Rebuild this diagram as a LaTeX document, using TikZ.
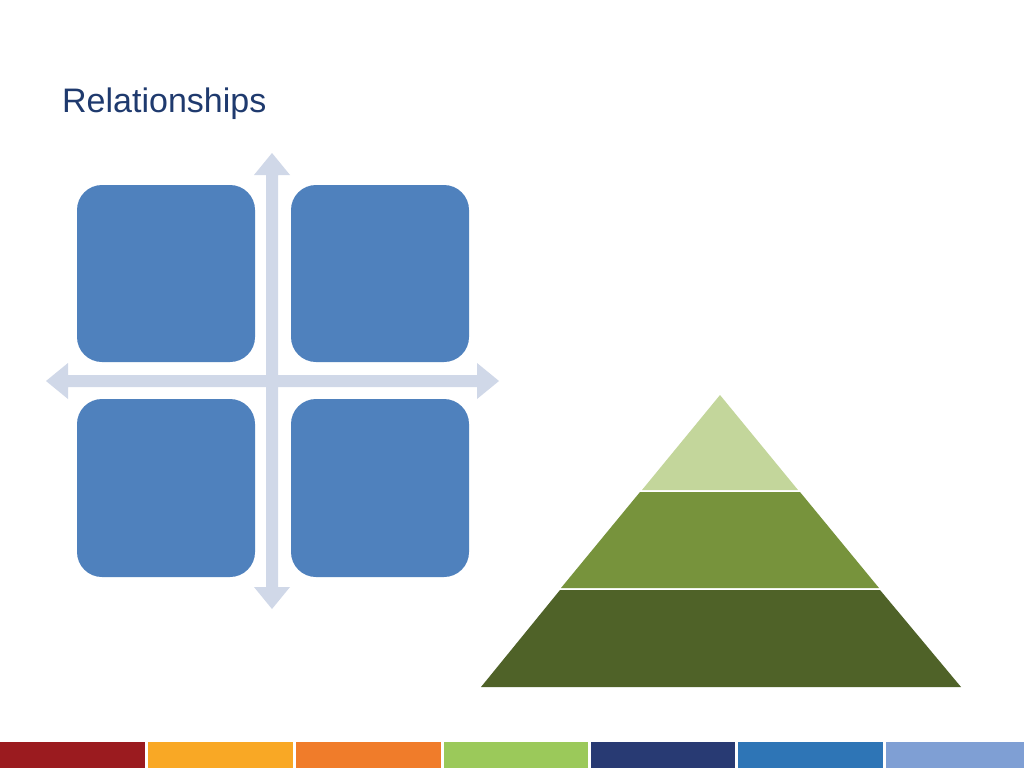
\documentclass[tikz,border=0pt]{standalone}
\usepackage{fontspec}
\setmainfont{Liberation Sans}
\definecolor{ttl}{HTML}{1F3A6E}
\definecolor{sq}{HTML}{4F81BD}
\definecolor{arr}{HTML}{D0D8E8}
\definecolor{pa}{HTML}{C3D69B}
\definecolor{pb}{HTML}{77933C}
\definecolor{pc}{HTML}{4F6228}
\begin{document}
\begin{tikzpicture}[x=1pt,y=-1pt]
\tikzset{sqbox/.style={fill=sq,rounded corners=25pt}}
\useasboundingbox (0,0) rectangle (1024,768);
\fill[white] (0,0) rectangle (1024,768);
\node[anchor=base west,inner sep=0,text=ttl,font=\fontsize{34}{40}\selectfont] (title) at (62,112) {Relationships};
% cross arrows
\fill[arr] (266,175) -- (254,175) -- (272,153) -- (290,175) -- (278,175) -- (278,587) -- (290,587) -- (272,609) -- (254,587) -- (266,587) -- cycle;
\fill[arr] (68,375) -- (68,363) -- (46,381) -- (68,399) -- (68,387) -- (477,387) -- (477,399) -- (499,381) -- (477,363) -- (477,375) -- cycle;
\fill[sqbox] (77,185) rectangle (255,362);
\fill[sqbox] (291,185) rectangle (469,362);
\fill[sqbox] (77,399) rectangle (255,577);
\fill[sqbox] (291,399) rectangle (469,577);
% pyramid
\fill[pa] (720,395) -- (798,490) -- (642,490) -- cycle;
\fill[pb] (640,492) -- (800,492) -- (879,588) -- (561,588) -- cycle;
\fill[pc] (560,590) -- (880,590) -- (961,687) -- (481,687) -- cycle;
% bottom bars
\fill[fill={rgb,255:red,155;green,27;blue,31}] (0,742) rectangle (145,768);
\fill[fill={rgb,255:red,249;green,168;blue,37}] (148,742) rectangle (293,768);
\fill[fill={rgb,255:red,240;green,124;blue,42}] (296,742) rectangle (441,768);
\fill[fill={rgb,255:red,155;green,201;blue,90}] (444,742) rectangle (588,768);
\fill[fill={rgb,255:red,40;green,58;blue,115}] (591,742) rectangle (735,768);
\fill[fill={rgb,255:red,46;green,117;blue,182}] (738,742) rectangle (883,768);
\fill[fill={rgb,255:red,127;green,159;blue,212}] (886,742) rectangle (1024,768);
\end{tikzpicture}
\end{document}
